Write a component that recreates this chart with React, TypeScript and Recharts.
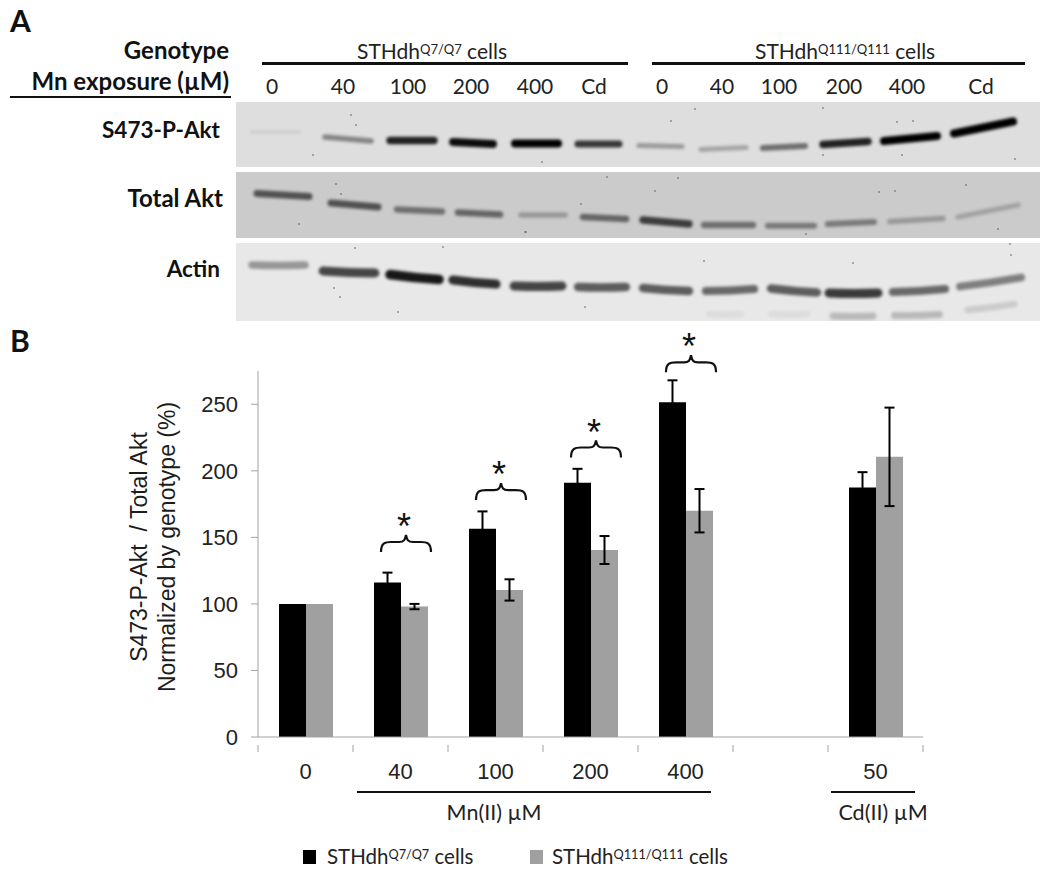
import React from 'react';
import {
  Bar,
  ComposedChart,
  ErrorBar,
  Legend,
  Line,
  Scatter,
  ScatterChart,
  XAxis,
  YAxis,
} from 'recharts';

// bar chart, panel B
const doses = ['0', '40', '100', '200', '400', '', '50'];
const q7Values = [100, 116, 156.5, 191, 251.5, null, 187.5];
const q111Values = [100, 98, 110.5, 140.5, 170, null, 210.5];
const q7Errors = [0, 7.5, 13, 10.5, 16.5, null, 11.5];
const q111Errors = [0, 2, 8, 10.5, 16.3, null, 37];
const braceLevels = [null, 139, 178, 210, 274, null, null];
const yTicks = [0, 50, 100, 150, 200, 250];

const chartData = doses.map((dose, i) => ({
  dose,
  q7: q7Values[i],
  q111: q111Values[i],
  q7Err: q7Errors[i],
  q111Err: q111Errors[i],
  brace: braceLevels[i],
}));

// blots, panel A: distance along the gel, migration, band length, darkness, tilt
const pAktLane = [39.5, 112, 176, 237, 300.5, 362.5, 424.5, 487.5, 548, 609.5, 674.5, 747.5];
const pAktMigration = [30, 37, 38.5, 41, 41.5, 42, 44, 46.5, 45, 41, 36.5, 25.5];
const pAktLength = [51, 50, 48, 44, 47, 45, 47, 49, 46, 49, 57, 63];
const pAktDarkness = [0.06, 0.4, 0.85, 0.95, 1, 0.75, 0.3, 0.25, 0.5, 0.85, 1, 1];
const pAktTilt = [0, 4, 0, 2, 0, 0, 1, -2, -2, -3, -5, -12];

const totalLane = [47, 118.5, 183.5, 243, 307, 368.5, 430, 492.5, 555, 615, 680.5, 752];
const totalMigration = [23, 33, 38.5, 41.5, 43, 46, 50, 53, 53.7, 51, 48, 39];
const totalLength = [56, 51, 49, 46, 48, 47, 50, 53, 50, 50, 57, 64];
const totalDarkness = [0.6, 0.6, 0.45, 0.5, 0.25, 0.5, 0.7, 0.45, 0.4, 0.4, 0.25, 0.2];
const totalTilt = [3, 4, 2, 2, 0, 2, 4, 0, 0, -2, -3, -12];

const actinLane = [42.5, 113, 178.5, 238.5, 302, 366, 430, 494, 558, 617.5, 683, 754.5, 489, 553, 617, 681, 755];
const actinMigration = [22, 29, 34, 39, 43, 44, 46.5, 47, 47.5, 50, 47.5, 39, 71, 71, 73, 72, 64];
const actinLength = [57, 56, 53, 47, 52, 52, 50, 52, 50, 53, 56, 65, 36, 40, 44, 49, 51];
const actinDarkness = [0.35, 0.7, 0.9, 0.8, 0.7, 0.6, 0.6, 0.55, 0.6, 0.75, 0.55, 0.45, 0.05, 0.05, 0.2, 0.2, 0.12];
const actinTilt = [0, 2, 5, 4, 0, 0, 3, -2, 4, 0, -3, -9, 0, 0, 0, -1, -6];

const pAktSpecks = [[115, 13], [120, 23], [77, 53], [435, 19], [459, 7], [661, 20], [677, 19], [666, 53], [779, 57], [587, 6], [306, 60], [587, 53]];
const totalSpecks = [[100, 12], [105, 22], [63, 52], [289, 60], [442, 6], [419, 19], [371, 5], [730, 13], [659, 19], [643, 20], [762, 57], [570, 62], [290, 60], [345, 32]];
const actinSpecks = [[119, 5], [104, 54], [98, 45], [162, 69], [207, 4], [468, 18], [617, 20], [774, 1], [349, 64], [775, 12]];

const laneLabels = ['0', '40', '100', '200', '400', 'Cd', '0', '40', '100', '200', '400', 'Cd'];
const laneLabelCentres = [272, 343, 408, 471, 535, 594, 662, 722, 779, 844, 907, 981];

const BLACK = '#000000';
const GREY = '#a0a0a0';
const AXIS = '#a3a3a3';
const ARIAL = '"Liberation Sans", Arial, sans-serif';
const CALIBRI = 'Lato, sans-serif';
const PLOT_W = 665;

const zipBands = (
  lane: number[],
  migration: number[],
  length: number[],
  darkness: number[],
  tilt: number[],
) =>
  lane.map((x, i) => ({
    x,
    y: migration[i],
    length: length[i],
    darkness: darkness[i],
    tilt: tilt[i],
  }));

const BandShape = (props: any) => {
  const { cx, cy, payload, bow, base } = props;
  if (cx == null || cy == null) return <g />;
  const half = payload.length / 2 - 2;
  const d = `M${cx - half},${cy - payload.tilt / 2} Q${cx},${cy + bow} ${cx + half},${cy + payload.tilt / 2}`;
  return (
    <path
      d={d}
      fill='none'
      stroke='#000'
      strokeOpacity={payload.darkness}
      strokeWidth={base + payload.darkness * 4}
      strokeLinecap='round'
      style={{ filter: 'blur(1.8px)' }}
    />
  );
};

const BlotPanel = ({ top, height, background, bands, specks, bow, base }: any) => (
  <div style={{ position: 'absolute', left: 236, top, width: 804, height, background }}>
    <ScatterChart width={804} height={height} margin={{ top: 0, right: 0, bottom: 0, left: 0 }}>
      <XAxis type='number' dataKey='x' domain={[0, 804]} hide />
      <YAxis type='number' dataKey='y' domain={[0, height]} reversed hide />
      <Scatter
        data={bands}
        isAnimationActive={false}
        shape={(p: any) => <BandShape {...p} bow={bow} base={base} />}
      />
      <Scatter
        data={specks.map(([x, y]: number[]) => ({ x, y }))}
        isAnimationActive={false}
        shape={(p: any) => <circle cx={p.cx} cy={p.cy} r={0.8} fill='#555' />}
      />
    </ScatterChart>
  </div>
);

const DoseTick = (props: any) => {
  const { x, y, payload, index } = props;
  const band = PLOT_W / doses.length;
  const left = x - band / 2;
  return (
    <g>
      <line x1={left} x2={left} y1={y} y2={y + 7} stroke={AXIS} />
      {index === doses.length - 1 && (
        <line x1={left + band} x2={left + band} y1={y} y2={y + 7} stroke={AXIS} />
      )}
      <text
        x={x}
        y={y + 28}
        textAnchor='middle'
        dominantBaseline='middle'
        fontFamily={ARIAL}
        fontSize={22}
        fill='#222'
      >
        {payload.value}
      </text>
    </g>
  );
};

const BraceDot = (props: any) => {
  const { cx, cy, value } = props;
  if (value == null || cy == null) return <g key={cx} />;
  const c = cx + 5.5;
  const d = `M${c - 25},${cy} C${c - 25},${cy - 9} ${c - 21},${cy - 10} ${c - 15},${cy - 10} L${c - 7},${cy - 10} C${c - 2},${cy - 10} ${c - 1},${cy - 12} ${c},${cy - 17} C${c + 1},${cy - 12} ${c + 2},${cy - 10} ${c + 7},${cy - 10} L${c + 15},${cy - 10} C${c + 21},${cy - 10} ${c + 25},${cy - 9} ${c + 25},${cy}`;
  return (
    <g key={cx}>
      <path d={d} fill='none' stroke='#111' strokeWidth={2.2} />
      <text x={c - 2} y={cy - 13} textAnchor='middle' fontFamily={ARIAL} fontSize={36} fill='#111'>
        *
      </text>
    </g>
  );
};

const Sup = ({ children }: any) => (
  <sup style={{ fontSize: '0.62em', lineHeight: 0, verticalAlign: '0.42em' }}>{children}</sup>
);

const LegendRow = () => (
  <div style={{ position: 'relative', width: 1050, height: 0, fontFamily: CALIBRI, fontSize: 20.5, color: '#222' }}>
    <span style={{ position: 'absolute', left: 303, top: 0, width: 13, height: 14, background: BLACK }} />
    <span style={{ position: 'absolute', left: 327, top: -6, whiteSpace: 'nowrap', lineHeight: '24px' }}>
      STHdh<Sup>Q7/Q7</Sup> cells
    </span>
    <span style={{ position: 'absolute', left: 530, top: 0, width: 13, height: 14, background: GREY }} />
    <span style={{ position: 'absolute', left: 552, top: -6, whiteSpace: 'nowrap', lineHeight: '24px' }}>
      STHdh<Sup>Q111/Q111</Sup> cells
    </span>
  </div>
);

const Label = ({ x, y, right, center, size, bold, font, children }: any) => (
  <div
    style={{
      position: 'absolute',
      left: right != null ? undefined : x,
      right: right != null ? 1050 - right : undefined,
      top: y - size / 2,
      lineHeight: `${size}px`,
      fontSize: size,
      fontWeight: bold ? 700 : 400,
      fontFamily: font || CALIBRI,
      color: bold ? '#111' : '#222',
      whiteSpace: 'pre',
      transform: center ? 'translateX(-50%)' : undefined,
    }}
  >
    {children}
  </div>
);

const Rule = ({ x1, x2, y, h }: any) => (
  <div style={{ position: 'absolute', left: x1, width: x2 - x1, top: y - h / 2, height: h, background: '#111' }} />
);

const YTitle = ({ x, children }: any) => (
  <div
    style={{
      position: 'absolute',
      left: x,
      top: 547,
      transform: 'translate(-50%, -50%) rotate(-90deg)',
      fontFamily: ARIAL,
      fontSize: 23,
      color: '#1c1c1c',
      whiteSpace: 'pre',
    }}
  >
    {children}
  </div>
);

export default function App() {
  return (
    <div style={{ position: 'absolute', left: 0, top: 0, width: 1050, height: 870, background: '#fff', overflow: 'hidden' }}>
      <ComposedChart
        width={1050}
        height={870}
        data={chartData}
        barSize={27}
        barGap={0}
        margin={{ top: 371, right: 127, bottom: 73, left: 218 }}
      >
        <XAxis dataKey='dose' height={60} interval={0} tickLine={false} stroke={AXIS} tick={<DoseTick />} />
        <YAxis
          width={40}
          domain={[0, 275]}
          ticks={yTicks}
          interval={0}
          stroke={AXIS}
          tickSize={7}
          tickMargin={13}
          tick={{ fill: '#222', fontSize: 22, fontFamily: ARIAL }}
        />
        <Bar dataKey='q7' fill={BLACK} isAnimationActive={false}>
          <ErrorBar dataKey='q7Err' width={5} stroke={BLACK} strokeWidth={2} direction='y' />
        </Bar>
        <Bar dataKey='q111' fill={GREY} isAnimationActive={false}>
          <ErrorBar dataKey='q111Err' width={5} stroke={BLACK} strokeWidth={2} direction='y' />
        </Bar>
        <Line
          dataKey='brace'
          stroke='none'
          legendType='none'
          dot={<BraceDot />}
          activeDot={false}
          isAnimationActive={false}
        />
        <Legend
          content={<LegendRow />}
          wrapperStyle={{ position: 'absolute', left: 0, top: 850, width: 1050, height: 0 }}
        />
      </ComposedChart>

      <BlotPanel top={102} height={65} background='#dedede' base={4} bow={0}
        bands={zipBands(pAktLane, pAktMigration, pAktLength, pAktDarkness, pAktTilt)} specks={pAktSpecks} />
      <BlotPanel top={172} height={66} background='#cbcbcb' base={4.5} bow={0}
        bands={zipBands(totalLane, totalMigration, totalLength, totalDarkness, totalTilt)} specks={totalSpecks} />
      <BlotPanel top={243} height={78} background='#e8e8e8' base={6} bow={1}
        bands={zipBands(actinLane, actinMigration, actinLength, actinDarkness, actinTilt)} specks={actinSpecks} />

      <Label x={10} y={20} size={30} bold>A</Label>
      <Label x={10} y={340} size={30} bold>B</Label>
      <Label right={229} y={50} size={24} bold>Genotype</Label>
      <Label right={229} y={81} size={24} bold>Mn exposure (µM)</Label>
      <Rule x1={10} x2={231} y={97} h={2.5} />
      <Label right={220} y={130} size={22.5} bold>S473-P-Akt</Label>
      <Label right={223} y={198} size={24} bold>Total Akt</Label>
      <Label right={220} y={269} size={22.5} bold>Actin</Label>

      <Label x={357} y={50} size={21}>STHdh<Sup>Q7/Q7</Sup> cells</Label>
      <Label x={755} y={50} size={21}>STHdh<Sup>Q111/Q111</Sup> cells</Label>
      <Rule x1={262} x2={628} y={63} h={3} />
      <Rule x1={652} x2={1025} y={63} h={3} />
      {laneLabels.map((t, i) => (
        <Label key={i} x={laneLabelCentres[i]} y={85} size={21} center>{t}</Label>
      ))}

      <YTitle x={139}>{'S473-P-Akt  / Total Akt'}</YTitle>
      <YTitle x={167}>Normalized by genotype (%)</YTitle>

      <Rule x1={357} x2={711} y={792} h={1.5} />
      <Rule x1={831} x2={915} y={792} h={1.5} />
      <Label x={494} y={813} size={21.5} center>Mn(II) µM</Label>
      <Label x={883} y={813} size={21.5} center>Cd(II) µM</Label>
    </div>
  );
}
